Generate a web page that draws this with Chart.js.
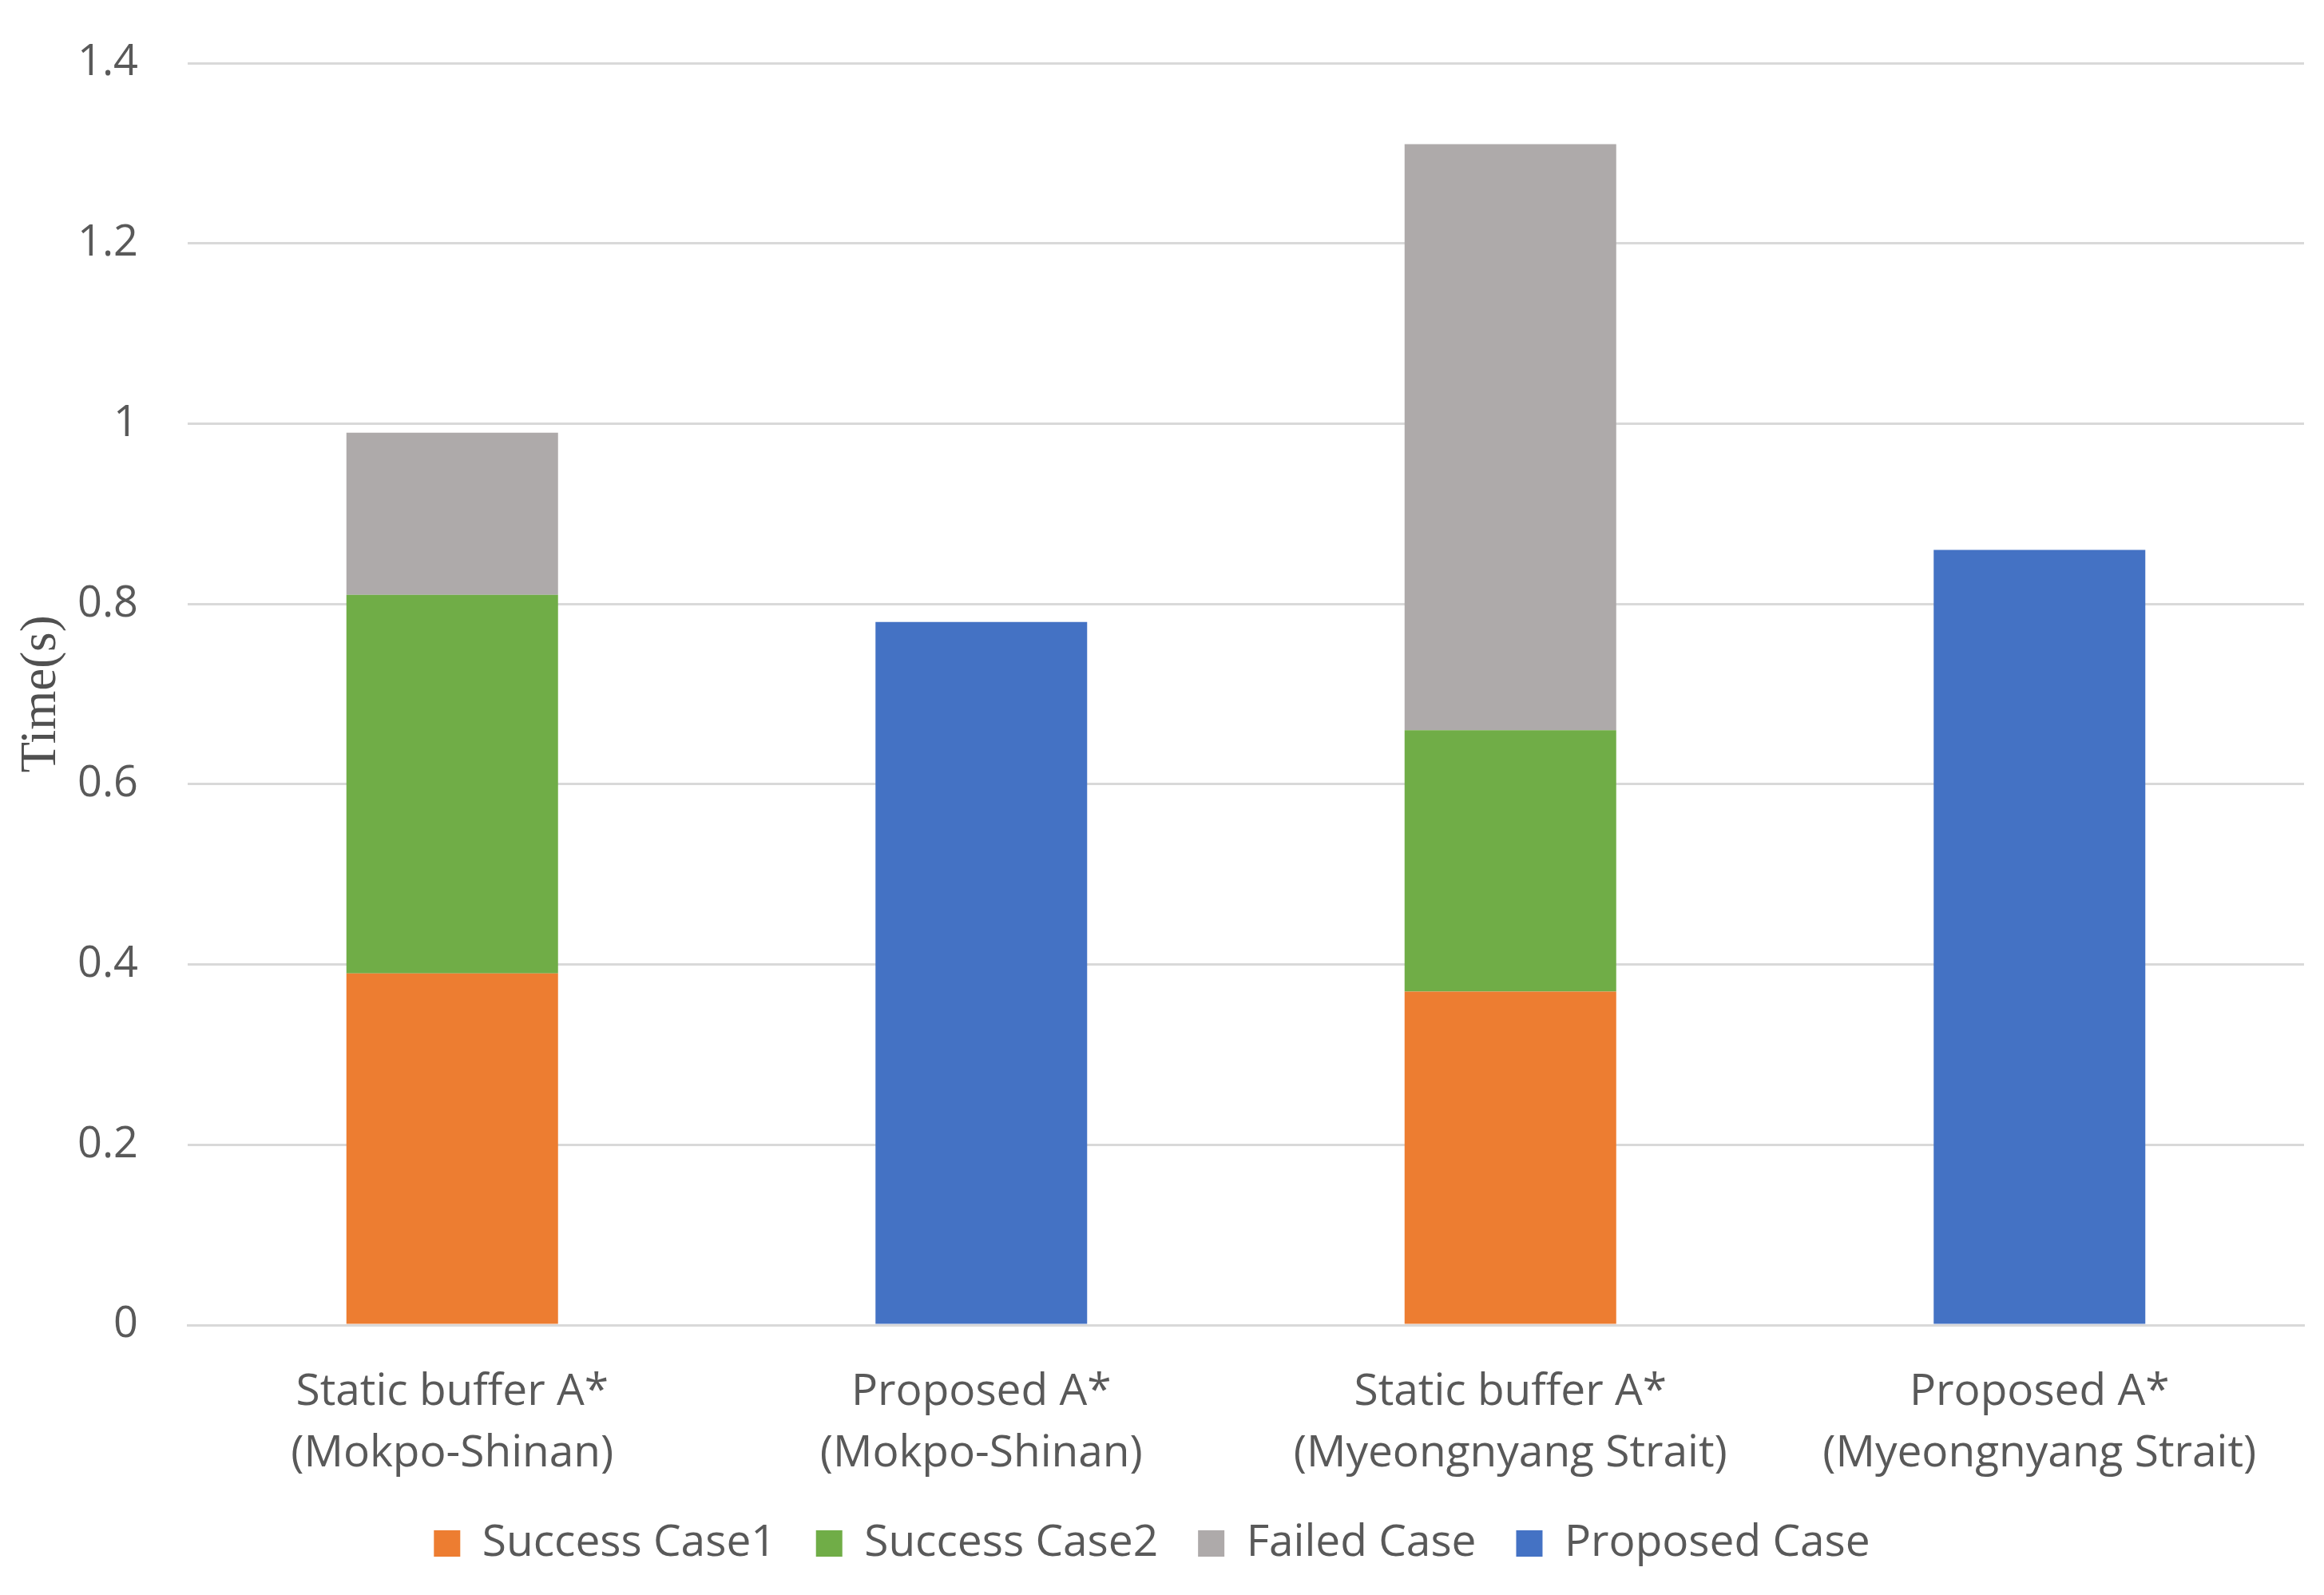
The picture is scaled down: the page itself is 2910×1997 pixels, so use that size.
<!DOCTYPE html>
<html>
<head>
<meta charset="utf-8">
<script src="https://cdn.jsdelivr.net/npm/chart.js@4/dist/chart.umd.min.js"></script>
<style>
	html, body { margin: 0; padding: 0; background: #fff; }
	#wrap { width: 2910px; height: 1997px; }
</style>
</head>
<body>
<div id="wrap"><canvas id="chart" width="2910" height="1997"></canvas></div>
<script>
const categories = [
	['Static buffer A*', '(Mokpo-Shinan)'],
	['Proposed A*', '(Mokpo-Shinan)'],
	['Static buffer A*', '(Myeongnyang Strait)'],
	['Proposed A*', '(Myeongnyang Strait)']
];
const successCase1 = [0.39, null, 0.37, null];
const successCase2 = [0.42, null, 0.29, null];
const failedCase = [0.18, null, 0.65, null];
const proposedCase = [null, 0.78, null, 0.86];
const yMin = 0, yMax = 1.4, yStep = 0.2;

const txt = '#595959';
const sans = '"Open Sans", "Noto Sans", sans-serif';

new Chart(document.getElementById('chart'), {
	type: 'bar',
	data: {
		labels: categories,
		datasets: [
			{ label: 'Success Case1', data: successCase1, backgroundColor: '#ED7D31' },
			{ label: 'Success Case2', data: successCase2, backgroundColor: '#70AD47' },
			{ label: 'Failed Case', data: failedCase, backgroundColor: '#AEAAAA' },
			{ label: 'Proposed Case', data: proposedCase, backgroundColor: '#4472C4' }
		]
	},
	options: {
		responsive: false,
		devicePixelRatio: 1,
		animation: false,
		layout: { padding: { top: 79, right: 25, bottom: 27, left: 0 } },
		datasets: { bar: { categoryPercentage: 1.0, barPercentage: 0.4 } },
		plugins: {
			tooltip: { enabled: false },
			legend: {
				position: 'bottom',
				labels: {
					color: txt,
					font: { family: sans, size: 55 },
					boxWidth: 33,
					boxHeight: 33,
					padding: 50
				}
			}
		},
		scales: {
			x: {
				stacked: true,
				grid: { display: false, drawTicks: false },
				border: { color: '#D9D9D9', width: 3 },
				ticks: {
					color: txt,
					font: { family: sans, size: 55, lineHeight: 1.4 },
					padding: 46,
					maxRotation: 0
				},
				afterFit: s => { s.height = 196; }
			},
			y: {
				stacked: true,
				min: yMin,
				max: yMax,
				grid: { color: '#D9D9D9', lineWidth: 3, drawTicks: false },
				border: { display: false },
				ticks: {
					stepSize: yStep,
					color: txt,
					font: { family: sans, size: 54 },
					padding: 62,
					callback: v => String(Number(v.toFixed(1)))
				},
				title: {
					display: true,
					text: 'Time(s)',
					color: '#505050',
					font: { family: '"Liberation Serif", "DejaVu Serif", serif', size: 63 },
					padding: { top: 15, bottom: 0 }
				},
				afterFit: s => {
					s.width = 235;
					s.paddingTop = 0;
					s.paddingBottom = 0;
				}
			}
		}
	}
});
</script>
</body>
</html>
